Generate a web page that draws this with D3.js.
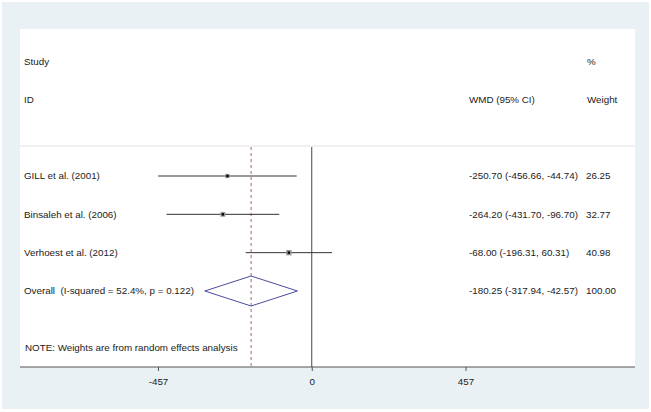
<!DOCTYPE html>
<html>
<head>
<meta charset="utf-8">
<script src="https://cdn.jsdelivr.net/npm/d3@7"></script>
<style>
  body { margin: 0; background: #fff; }
  text { font-family: "Liberation Sans", Arial, sans-serif; fill: #1a1a1a; white-space: pre; }
</style>
</head>
<body>
<svg id="chart" width="651" height="412"></svg>
<script>
// study data (WMD with 95% CI, random-effects weights)
var studies = ["GILL et al. (2001)", "Binsaleh et al. (2006)", "Verhoest et al. (2012)"];
var wmd     = [-250.70, -264.20, -68.00];
var lower   = [-456.66, -431.70, -196.31];
var upper   = [-44.74, -96.70, 60.31];
var weights = [26.25, 32.77, 40.98];

var overallLabel = "Overall  (I-squared = 52.4%, p = 0.122)";
var overall = [-180.25, -317.94, -42.57];   // estimate, lower, upper
var overallWeight = 100.00;

var tickValues = [-457, 0, 457];
var note = "NOTE: Weights are from random effects analysis";

var svg = d3.select("#chart");

// graph region + plot region
svg.append("rect").attr("x", 2).attr("y", 2).attr("width", 647).attr("height", 407)
  .attr("fill", "#eaf1f4");
svg.append("rect").attr("x", 20).attr("y", 29).attr("width", 615).attr("height", 338)
  .attr("fill", "#fff");

var x = d3.scaleLinear().domain([-457, 457]).range([158, 465.5]);
var rowY = d3.scalePoint().domain(d3.range(4)).range([176, 291]);

var fs = "9.8px";

function txt(s, tx, ty, anchor) {
  svg.append("text").attr("x", tx).attr("y", ty).attr("dy", "0.35em")
    .attr("xml:space", "preserve")
    .attr("text-anchor", anchor || "start").style("font-size", fs).text(s);
}
// plain hyphen minus, like the original
function fmt(v) { return v.toFixed(2); }

// headers
txt("Study", 24, 62);
txt("ID", 24, 100);
txt("%", 587, 62);
txt("Weight", 587, 100);
txt("WMD (95% CI)", 469, 100);

// faint separator
svg.append("line").attr("x1", 20).attr("x2", 635).attr("y1", 146).attr("y2", 146)
  .attr("stroke", "#e2e2e2").attr("stroke-width", 1);

// null line and overall dashed line
svg.append("line").attr("x1", x(0)).attr("x2", x(0)).attr("y1", 147).attr("y2", 367)
  .attr("stroke", "#444").attr("stroke-width", 1);
svg.append("line").attr("x1", x(overall[0])).attr("x2", x(overall[0])).attr("y1", 147).attr("y2", 367)
  .attr("stroke", "#a86470").attr("stroke-width", 1).attr("stroke-dasharray", "3,3");

studies.forEach(function(s, i) {
  var y = rowY(i);
  txt(s, 24, y);
  svg.append("line").attr("x1", x(lower[i])).attr("x2", x(upper[i]))
    .attr("y1", y).attr("y2", y).attr("stroke", "#333").attr("stroke-width", 1);
  var side = 0.85 * Math.sqrt(weights[i]);
  svg.append("rect").attr("x", x(wmd[i]) - side / 2).attr("y", y - side / 2)
    .attr("width", side).attr("height", side).attr("fill", "#9a9a9a");
  svg.append("rect").attr("x", x(wmd[i]) - 1.2).attr("y", y - 1.2)
    .attr("width", 2.4).attr("height", 2.4).attr("fill", "#000");
  txt(fmt(wmd[i]) + " (" + fmt(lower[i]) + ", " + fmt(upper[i]) + ")", 469, y);
  txt(fmt(weights[i]), 586, y);
});

// overall diamond
var oy = rowY(3);
txt(overallLabel, 24, oy);
svg.append("path")
  .attr("d", "M" + x(overall[1]) + "," + oy + "L" + x(overall[0]) + "," + (oy - 15) +
    "L" + x(overall[2]) + "," + oy + "L" + x(overall[0]) + "," + (oy + 15) + "Z")
  .attr("fill", "none").attr("stroke", "#4b4b9c").attr("stroke-width", 1);
txt(fmt(overall[0]) + " (" + fmt(overall[1]) + ", " + fmt(overall[2]) + ")", 469, oy);
txt(fmt(overallWeight), 586, oy);

txt(note, 25, 348);

// x axis
var axis = svg.append("g").attr("transform", "translate(0,367)")
  .call(d3.axisBottom(x).tickValues(tickValues).tickSize(4).tickPadding(7).tickFormat(function(d) { return String(d); }));
axis.select(".domain").remove();
axis.selectAll(".tick line").attr("stroke", "#555");
axis.selectAll(".tick text").style("font-size", fs).attr("font-family", null).attr("fill", "#1a1a1a");
svg.append("line").attr("x1", 20).attr("x2", 635).attr("y1", 367).attr("y2", 367)
  .attr("stroke", "#555").attr("stroke-width", 1.2);
</script>
</body>
</html>
